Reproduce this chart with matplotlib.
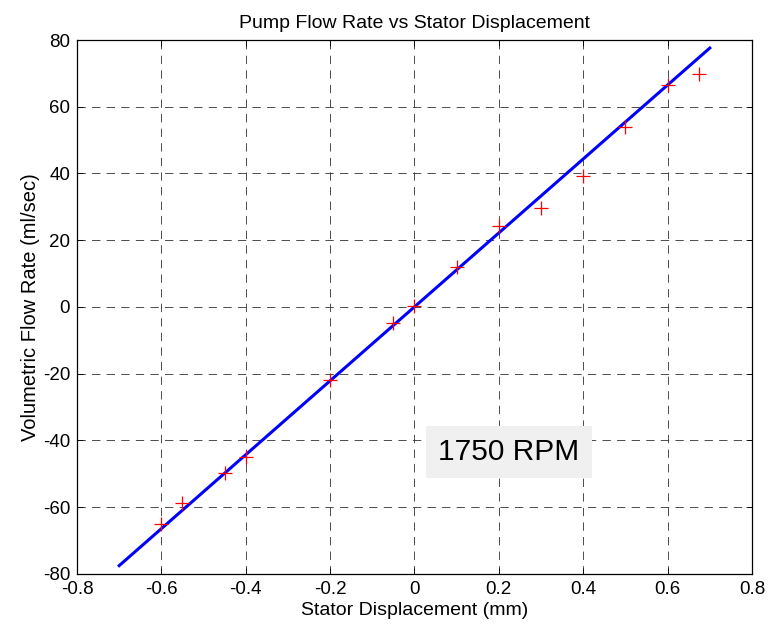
import matplotlib.pyplot as plt

plt.rcParams['font.family'] = ['Liberation Sans', 'DejaVu Sans']
plt.rcParams['lines.scale_dashes'] = False
plt.rcParams['axes.unicode_minus'] = False

# measured points (stator displacement mm, flow ml/sec)
disp_mm = [-0.6, -0.55, -0.45, -0.4, -0.2, -0.05, 0.0, 0.1, 0.2, 0.3, 0.4, 0.5, 0.6, 0.675]
flow_ml = [-65.0, -58.8, -49.8, -45.0, -21.9, -4.7, 0.3, 12.1, 24.3, 29.7, 39.2, 53.8, 66.5, 69.7]

# linear fit endpoints
fit_x = [-0.7, 0.7]
fit_y = [-77.5, 77.6]

fig = plt.figure(figsize=(7.7, 6.35), dpi=100)
ax = fig.add_axes([0.1, 0.0961, 0.8766, 0.8409])

ax.plot(fit_x, fit_y, color='blue', linewidth=2.2, zorder=2)
ax.plot(disp_mm, flow_ml, '+', color='red', markersize=10, markeredgewidth=0.9, zorder=3)

ax.set_xlim(-0.8, 0.8)
ax.set_ylim(-80, 80)
ax.set_xticks([-0.8, -0.6, -0.4, -0.2, 0, 0.2, 0.4, 0.6, 0.8])
ax.set_xticklabels(['-0.8', '-0.6', '-0.4', '-0.2', '0', '0.2', '0.4', '0.6', '0.8'])
ax.set_yticks(range(-80, 81, 20))

ax.grid(True, color='#303030', linestyle=(0, (6, 4.5)), linewidth=0.6)
ax.tick_params(direction='in', top=True, right=True, length=4, width=0.6,
               labelsize=13.5, pad=5)
for s in ax.spines.values():
    s.set_linewidth(0.9)

ax.set_title('Pump Flow Rate vs Stator Displacement', fontsize=14, pad=9)
ax.set_xlabel('Stator Displacement (mm)', fontsize=14, labelpad=3)
ax.set_ylabel('Volumetric Flow Rate (ml/sec)', fontsize=14.5, labelpad=2)

ax.text(0.224, -43.4, '1750 RPM', fontsize=21.5, ha='center', va='center',
        bbox=dict(boxstyle='square,pad=0.4', facecolor='#f0f0f0', edgecolor='none'))

fig.savefig('out.png', dpi=100)
